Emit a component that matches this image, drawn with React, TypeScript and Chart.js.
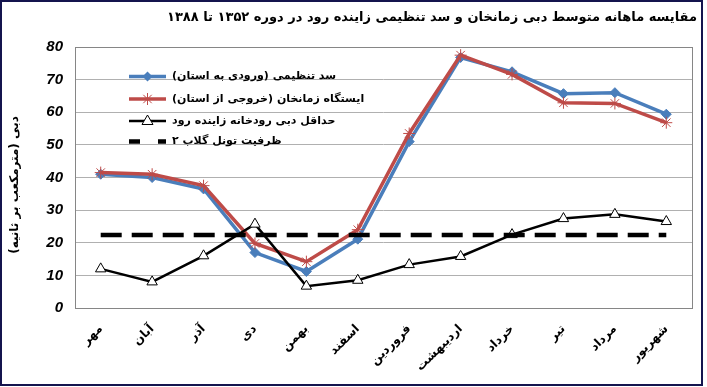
import { useEffect, useRef } from "react";
import { Chart, registerables } from "chart.js";
Chart.register(...registerables);

const chartTitle = "مقایسه ماهانه متوسط دبی زمانخان و سد تنظیمی زاینده رود در دوره ۱۳۵۲ تا ۱۳۸۸";
const yAxisTitle = "دبی (مترمکعب بر ثانیه)";
const months = ["مهر", "آبان", "آذر", "دی", "بهمن", "اسفند", "فروردین", "اردیبهشت", "خرداد", "تیر", "مرداد", "شهریور"];
const seriesNames = [
  "سد تنظیمی (ورودی به استان)",
  "ایستگاه زمانخان (خروجی از استان)",
  "حداقل دبی رودخانه زاینده رود",
  "ظرفیت تونل گلاب ۲",
];
const damInflow = [41, 40, 36.5, 17, 11.2, 21.1, 51, 76.8, 72.4, 65.7, 66, 59.4];
const zamankhan = [41.5, 41, 37.5, 19.8, 14.2, 24, 53.5, 77.5, 71.6, 62.9, 62.7, 56.8];
const minFlow = [12, 8, 16, 25.7, 6.7, 8.5, 13.3, 15.8, 22.5, 27.4, 28.7, 26.5];
const tunnelCapacity = [22.4, 22.4, 22.4, 22.4, 22.4, 22.4, 22.4, 22.4, 22.4, 22.4, 22.4, 22.4];

const BLUE = "#4a7ebb";
const RED = "#be4b48";
const RLM = "\u200F";
const FA = "'DejaVu Sans', sans-serif";

const decor = {
  id: "decor",
  beforeDraw(chart: any) {
    const ctx = chart.ctx;
    ctx.save();
    ctx.fillStyle = "#ffffff";
    ctx.fillRect(0, 0, chart.width, chart.height);
    ctx.restore();
  },
  afterDatasetsDraw(chart: any) {
    const ctx = chart.ctx;
    const a = chart.chartArea;
    ctx.save();
    // plot frame
    ctx.strokeStyle = "#868686";
    ctx.lineWidth = 1;
    ctx.strokeRect(Math.round(a.left) + 0.5, Math.round(a.top) + 0.5, Math.round(a.right - a.left), Math.round(a.bottom - a.top));
    // outer border
    ctx.strokeStyle = "#14144e";
    ctx.lineWidth = 2;
    ctx.strokeRect(1, 1, 701, 384);
    // title
    ctx.fillStyle = "#000";
    ctx.font = "bold 13px " + FA;
    ctx.direction = "rtl";
    ctx.textAlign = "right";
    ctx.textBaseline = "middle";
    ctx.fillText(RLM + chartTitle + RLM, 697, 18);
    // y axis title
    ctx.save();
    ctx.translate(15, 185);
    ctx.rotate(-Math.PI / 2);
    ctx.font = "bold 12px " + FA;
    ctx.textAlign = "center";
    ctx.fillText(RLM + yAxisTitle + RLM, 0, 0);
    ctx.restore();
    // legend
    const rows = [76.5, 99, 121, 141.5];
    const x0 = 129, x1 = 166, xm = 147.5;
    ctx.font = "bold 11px " + FA;
    rows.forEach((y, i) => {
      ctx.save();
      ctx.setLineDash([]);
      if (i === 0) {
        ctx.strokeStyle = BLUE; ctx.lineWidth = 3.5;
        ctx.beginPath(); ctx.moveTo(x0, y); ctx.lineTo(x1, y); ctx.stroke();
        ctx.fillStyle = BLUE;
        ctx.beginPath(); ctx.moveTo(xm, y - 5); ctx.lineTo(xm + 5, y); ctx.lineTo(xm, y + 5); ctx.lineTo(xm - 5, y); ctx.closePath(); ctx.fill();
      } else if (i === 1) {
        ctx.strokeStyle = RED; ctx.lineWidth = 3.5;
        ctx.beginPath(); ctx.moveTo(x0, y); ctx.lineTo(x1, y); ctx.stroke();
        ctx.lineWidth = 1;
        ctx.beginPath();
        ctx.moveTo(xm, y - 6); ctx.lineTo(xm, y + 6);
        ctx.moveTo(xm - 4.2, y - 4.2); ctx.lineTo(xm + 4.2, y + 4.2);
        ctx.moveTo(xm - 4.2, y + 4.2); ctx.lineTo(xm + 4.2, y - 4.2);
        ctx.stroke();
      } else if (i === 2) {
        ctx.strokeStyle = "#000"; ctx.lineWidth = 2.5;
        ctx.beginPath(); ctx.moveTo(x0, y); ctx.lineTo(x1, y); ctx.stroke();
        ctx.lineWidth = 1; ctx.fillStyle = "#fff";
        ctx.beginPath(); ctx.moveTo(xm, y - 6); ctx.lineTo(xm + 5.5, y + 3.5); ctx.lineTo(xm - 5.5, y + 3.5); ctx.closePath(); ctx.fill(); ctx.stroke();
      } else {
        ctx.strokeStyle = "#000"; ctx.lineWidth = 4.5;
        ctx.setLineDash([11, 18]);
        ctx.beginPath(); ctx.moveTo(x0, y); ctx.lineTo(x1, y); ctx.stroke();
      }
      ctx.restore();
      ctx.fillStyle = "#000";
      ctx.direction = "rtl";
      ctx.textAlign = "left";
      ctx.textBaseline = "middle";
      ctx.fillText(RLM + seriesNames[i] + RLM, 172, y);
    });
    ctx.restore();
  },
};

export default function App() {
  const ref = useRef<HTMLCanvasElement | null>(null);
  useEffect(() => {
    if (!ref.current) return;
    const chart = new Chart(ref.current, {
      type: "line",
      data: {
        labels: months.map((m) => RLM + m + RLM),
        datasets: [
          {
            label: seriesNames[0], data: damInflow, borderColor: BLUE, backgroundColor: BLUE,
            borderWidth: 3.5, pointStyle: "rectRot", pointRadius: 5, pointBorderWidth: 1, order: 4,
          },
          {
            label: seriesNames[1], data: zamankhan, borderColor: RED, backgroundColor: RED,
            borderWidth: 3.5, pointStyle: "star", pointRadius: 6, pointBorderWidth: 1, order: 3,
          },
          {
            label: seriesNames[2], data: minFlow, borderColor: "#000", backgroundColor: "#fff",
            borderWidth: 2.5, pointStyle: "triangle", pointRadius: 6, pointBorderWidth: 1, order: 2,
          },
          {
            label: seriesNames[3], data: tunnelCapacity, borderColor: "#000", backgroundColor: "#000",
            borderWidth: 4.5, borderDash: [21, 10], pointRadius: 0, order: 1,
          },
        ],
      },
      options: {
        animation: false,
        responsive: false,
        devicePixelRatio: 1,
        layout: { padding: { left: 0, right: 15, top: 47, bottom: 0 } },
        plugins: { legend: { display: false }, title: { display: false }, tooltip: { enabled: false } },
        scales: {
          x: {
            type: "category",
            offset: true,
            grid: { display: false, drawTicks: false },
            border: { display: false },
            afterFit: (s: any) => { s.height = 79; },
            ticks: {
              autoSkip: false, minRotation: 45, maxRotation: 45, padding: 14, color: "#000",
              font: { family: FA, size: 12, weight: "bold" },
            },
          },
          y: {
            min: 0, max: 80,
            afterFit: (s: any) => { s.width = 75; },
            grid: { color: "#b0b0b0", lineWidth: 1, drawTicks: false },
            border: { display: false },
            ticks: {
              stepSize: 10, padding: 12, color: "#000",
              font: { family: "'Liberation Sans', Arial, sans-serif", size: 15, weight: "bold", style: "italic" },
            },
          },
        },
      },
      plugins: [decor],
    } as any);
    return () => chart.destroy();
  }, []);
  return (
    <div style={{ position: "absolute", left: 0, top: 0, width: 707, height: 387 }}>
      <canvas ref={ref} width={707} height={387} style={{ width: 707, height: 387, display: "block" }} />
    </div>
  );
}
